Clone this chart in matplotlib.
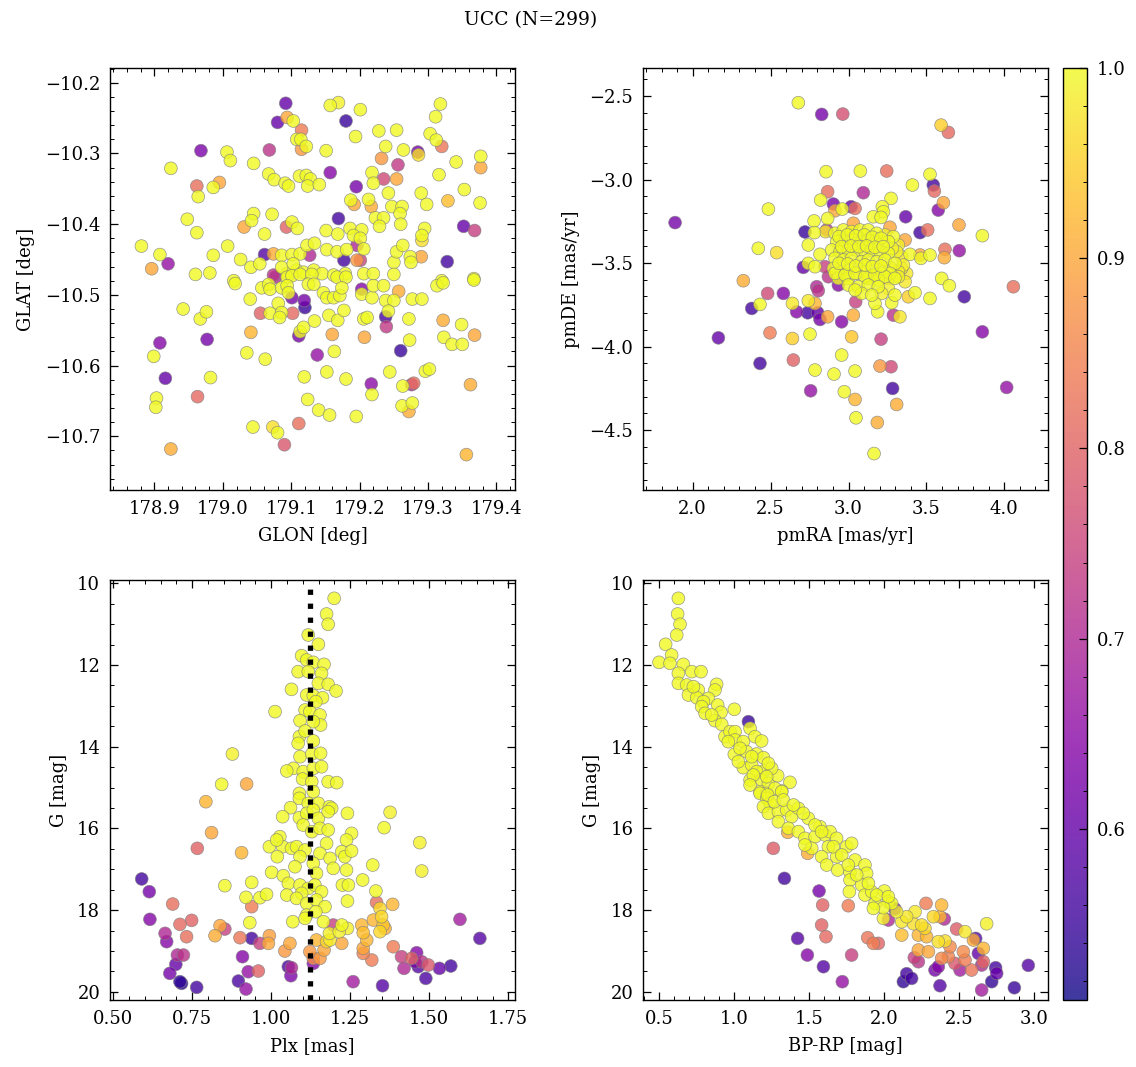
import numpy as np
import matplotlib
matplotlib.use("Agg")
import matplotlib.pyplot as plt
from matplotlib.colors import Normalize
from matplotlib.ticker import MultipleLocator, FuncFormatter

# ---------------- data ----------------
title = "UCC (N=299)"

# Top-left: GLON / GLAT
tl_glon = [179.092, 179.157, 179.169, 179.201, 179.318, 179.311, 179.080, 179.094, 179.103, 179.180,
           179.115, 179.108, 179.114, 179.122, 179.115, 179.194, 179.228, 179.254, 179.303, 179.312,
           179.320, 178.968, 179.006, 179.011, 179.068, 179.151, 179.238, 179.264, 179.285, 179.286,
           179.377, 179.377, 179.341, 178.924, 179.045, 179.232, 179.256, 179.157, 179.067, 179.075,
           179.091, 179.096, 179.112, 179.122, 179.128, 179.124, 179.141, 179.218, 179.220, 179.235,
           179.254, 179.316, 178.962, 178.964, 178.986, 178.995, 179.195, 179.353, 179.242, 179.290,
           179.298, 179.329, 179.376, 179.187, 179.192, 179.213, 179.217, 179.247, 179.262, 179.259,
           178.948, 178.962, 179.045, 179.042, 179.072, 179.169, 179.223, 179.235, 179.229, 179.260,
           179.352, 179.368, 179.031, 179.093, 179.101, 179.109, 179.061, 179.151, 179.168, 179.186,
           179.203, 179.191, 179.201, 179.295, 179.291, 179.291, 179.290, 178.881, 178.908, 178.896,
           178.920, 178.986, 179.007, 179.026, 179.041, 179.054, 179.061, 179.074, 179.086, 179.101,
           179.113, 179.123, 179.134, 179.127, 179.152, 179.167, 179.181, 179.196, 179.206, 179.196,
           179.201, 179.177, 179.250, 179.254, 179.263, 179.274, 179.275, 179.328, 178.960, 178.981,
           179.367, 179.320, 179.094, 179.108, 179.118, 179.133, 179.145, 179.162, 179.179, 179.206,
           179.220, 179.074, 179.016, 179.086, 179.103,
           179.018, 179.040, 179.057, 179.067, 179.069, 179.077, 179.094, 179.101, 179.113, 179.130,
           179.086, 179.094, 179.096, 179.101, 179.119, 179.120, 179.125, 179.133, 179.147, 179.152,
           179.162, 179.171, 179.167, 179.180, 179.174, 179.203, 179.203, 179.218, 179.220, 179.235,
           179.250, 179.257, 179.238, 179.250, 179.242, 179.238, 179.239, 179.277, 179.291, 179.313,
           179.322, 179.367, 178.942, 178.967, 178.976, 179.055, 179.069, 179.081, 179.086, 179.083,
           179.102, 179.113, 179.111, 179.118, 179.134, 179.155, 179.168, 179.177, 179.160, 179.206,
           179.211, 179.207, 179.272, 179.273, 179.322, 179.349, 179.368, 179.323, 179.335, 179.350,
           178.908, 178.977, 178.899, 179.041, 179.035, 179.062, 179.138, 179.163, 179.260, 178.916,
           178.982, 179.119, 179.152, 179.180, 179.244, 179.296, 179.302, 179.217, 179.218, 179.263,
           179.276, 179.279, 179.362, 178.903, 178.902, 178.963, 179.124, 179.140, 179.156, 179.195,
           179.262, 179.277, 179.272, 179.044, 179.073, 179.080, 179.111, 179.090, 178.924, 179.356]
tl_glat = [-10.229, -10.232, -10.228, -10.238, -10.230, -10.248, -10.256, -10.249, -10.254, -10.254,
           -10.267, -10.280, -10.280, -10.290, -10.294, -10.276, -10.268, -10.267, -10.272, -10.281,
           -10.290, -10.296, -10.298, -10.310, -10.295, -10.296, -10.290, -10.295, -10.298, -10.302,
           -10.304, -10.320, -10.312, -10.321, -10.314, -10.307, -10.316, -10.327, -10.329, -10.337,
           -10.342, -10.346, -10.332, -10.331, -10.336, -10.346, -10.344, -10.327, -10.342, -10.336,
           -10.336, -10.330, -10.346, -10.361, -10.348, -10.341, -10.347, -10.351, -10.356, -10.356,
           -10.372, -10.367, -10.370, -10.366, -10.372, -10.365, -10.375, -10.375, -10.375, -10.385,
           -10.393, -10.412, -10.385, -10.395, -10.386, -10.392, -10.391, -10.391, -10.403, -10.400,
           -10.403, -10.409, -10.404, -10.404, -10.397, -10.406, -10.414, -10.409, -10.414, -10.406,
           -10.408, -10.416, -10.420, -10.406, -10.416, -10.423, -10.446, -10.431, -10.443, -10.463,
           -10.456, -10.444, -10.431, -10.450, -10.461, -10.456, -10.443, -10.442, -10.444, -10.443,
           -10.442, -10.430, -10.427, -10.444, -10.436, -10.439, -10.436, -10.430, -10.435, -10.451,
           -10.451, -10.451, -10.454, -10.439, -10.430, -10.446, -10.454, -10.453, -10.471, -10.469,
           -10.477, -10.480, -10.470, -10.465, -10.468, -10.465, -10.470, -10.472, -10.470, -10.470,
           -10.470, -10.472, -10.480, -10.461, -10.456,
           -10.484, -10.506, -10.490, -10.485, -10.492, -10.475, -10.475, -10.473, -10.471, -10.471,
           -10.490, -10.487, -10.497, -10.504, -10.508, -10.518, -10.485, -10.485, -10.497, -10.504,
           -10.504, -10.501, -10.475, -10.475, -10.490, -10.492, -10.499, -10.504, -10.487, -10.487,
           -10.471, -10.495, -10.508, -10.508, -10.523, -10.531, -10.545, -10.506, -10.506, -10.487,
           -10.483, -10.479, -10.520, -10.534, -10.524, -10.526, -10.526, -10.512, -10.525, -10.532,
           -10.526, -10.552, -10.558, -10.546, -10.537, -10.529, -10.536, -10.522, -10.556, -10.534,
           -10.532, -10.560, -10.534, -10.564, -10.536, -10.542, -10.557, -10.560, -10.570, -10.570,
           -10.568, -10.563, -10.587, -10.553, -10.582, -10.591, -10.585, -10.580, -10.579, -10.618,
           -10.617, -10.616, -10.609, -10.619, -10.609, -10.608, -10.605, -10.626, -10.641, -10.629,
           -10.627, -10.625, -10.627, -10.646, -10.659, -10.644, -10.648, -10.663, -10.670, -10.672,
           -10.657, -10.653, -10.665, -10.687, -10.687, -10.695, -10.682, -10.712, -10.718, -10.726]
tl_prob = [0.60, 1.00, 0.99, 1.00, 1.00, 1.00, 0.60, 0.90, 1.00, 0.55,
           0.84, 1.00, 1.00, 1.00, 0.88, 1.00, 1.00, 1.00, 1.00, 1.00,
           0.83, 0.63, 1.00, 1.00, 0.72, 1.00, 1.00, 1.00, 0.62, 0.97,
           1.00, 0.90, 1.00, 1.00, 1.00, 0.88, 0.73, 0.64, 1.00, 1.00,
           1.00, 1.00, 1.00, 1.00, 1.00, 1.00, 1.00, 1.00, 1.00, 0.76,
           0.90, 1.00, 0.82, 1.00, 1.00, 0.90, 0.62, 1.00, 1.00, 1.00,
           1.00, 0.93, 1.00, 1.00, 0.90, 1.00, 0.91, 1.00, 1.00, 1.00,
           1.00, 1.00, 1.00, 1.00, 1.00, 0.56, 1.00, 1.00, 1.00, 1.00,
           0.60, 0.74, 0.90, 0.80, 1.00, 1.00, 1.00, 1.00, 1.00, 1.00,
           1.00, 1.00, 1.00, 1.00, 1.00, 0.97, 0.90, 1.00, 1.00, 0.90,
           0.66, 1.00, 1.00, 1.00, 1.00, 1.00, 0.58, 0.91, 1.00, 1.00,
           1.00, 1.00, 1.00, 0.70, 1.00, 1.00, 1.00, 0.70, 1.00, 0.88,
           0.75, 0.56, 1.00, 1.00, 1.00, 1.00, 1.00, 0.56, 1.00, 1.00,
           1.00, 1.00, 1.00, 1.00, 1.00, 1.00, 1.00, 1.00, 1.00, 1.00,
           1.00, 0.72, 1.00, 1.00, 1.00,
           1.00, 1.00, 1.00, 1.00, 1.00, 0.70, 1.00, 1.00, 1.00, 1.00,
           1.00, 1.00, 1.00, 0.62, 0.62, 0.55, 1.00, 1.00, 1.00, 1.00,
           1.00, 1.00, 1.00, 1.00, 1.00, 0.64, 1.00, 1.00, 1.00, 1.00,
           1.00, 0.91, 1.00, 1.00, 1.00, 0.56, 0.73, 1.00, 1.00, 1.00,
           1.00, 1.00, 1.00, 1.00, 1.00, 0.80, 1.00, 1.00, 1.00, 1.00,
           0.81, 1.00, 0.62, 1.00, 1.00, 1.00, 1.00, 1.00, 0.90, 1.00,
           1.00, 0.90, 1.00, 1.00, 0.91, 1.00, 0.90, 1.00, 1.00, 1.00,
           0.64, 0.62, 1.00, 0.92, 1.00, 1.00, 0.66, 1.00, 0.55, 0.60,
           1.00, 1.00, 1.00, 1.00, 1.00, 1.00, 1.00, 0.65, 1.00, 1.00,
           0.70, 0.82, 0.91, 1.00, 1.00, 0.81, 1.00, 1.00, 1.00, 1.00,
           1.00, 1.00, 0.91, 1.00, 0.97, 1.00, 0.82, 0.78, 0.91, 0.92]

# Top-right: proper motions
tr_pmra = [2.678, 2.828, 2.963, 3.594, 3.641, 2.856, 3.076, 3.245, 3.523, 3.410,
           3.544, 3.551, 3.095, 2.866, 2.821, 3.273, 3.609, 3.576, 2.486, 2.903,
           2.913, 2.960, 3.016, 3.042, 3.217, 3.224, 3.159, 3.209, 3.367, 1.887,
           2.779, 2.866, 3.709, 3.859, 2.721, 2.781, 2.860, 2.852, 3.459, 3.508,
           3.266, 3.031, 2.742, 2.817, 2.421, 2.539, 3.363, 3.395, 3.465, 3.459,
           3.523, 3.619, 3.615, 3.711, 2.710, 2.742, 2.785, 2.849, 2.325, 3.598,
           2.481, 2.582, 2.379, 2.432, 2.640, 2.667, 2.738, 2.742, 2.785, 2.796,
           2.806, 2.802, 2.817, 2.866, 2.956, 3.031, 3.046, 2.935, 2.871, 3.187,
           3.170, 3.277, 3.288, 3.330, 3.384, 3.427, 3.298, 3.523, 3.647, 3.743,
           4.058, 3.859, 2.165, 2.496, 2.640, 2.753, 3.020, 3.209, 2.956, 2.432,
           2.646, 2.785, 2.907, 3.042, 3.202, 3.273, 2.757, 2.973, 3.042, 3.283,
           3.309, 4.015, 3.048, 3.185, 3.164]
tr_pmde = [-2.540, -2.610, -2.608, -2.674, -2.718, -2.953, -2.949, -2.949, -2.969, -3.033,
           -3.033, -3.069, -3.079, -3.073, -3.123, -3.113, -3.139, -3.183, -3.177, -3.147,
           -3.187, -3.177, -3.163, -3.173, -3.163, -3.193, -3.223, -3.227, -3.223, -3.258,
           -3.248, -3.233, -3.272, -3.336, -3.314, -3.318, -3.302, -3.312, -3.318, -3.302,
           -3.286, -3.262, -3.392, -3.448, -3.412, -3.438, -3.362, -3.448, -3.472, -3.452,
           -3.452, -3.418, -3.468, -3.426, -3.526, -3.502, -3.522, -3.522, -3.606, -3.592,
           -3.682, -3.682, -3.772, -3.748, -3.742, -3.792, -3.798, -3.726, -3.742, -3.642,
           -3.666, -3.798, -3.838, -3.822, -3.852, -3.812, -3.732, -3.632, -3.582, -3.792,
           -3.742, -3.738, -3.812, -3.822, -3.702, -3.678, -3.692, -3.712, -3.636, -3.702,
           -3.642, -3.912, -3.948, -3.918, -3.952, -3.926, -3.942, -3.956, -4.051, -4.101,
           -4.081, -4.141, -4.165, -4.147, -4.117, -4.121, -4.265, -4.271, -4.317, -4.251,
           -4.347, -4.245, -4.427, -4.455, -4.641]
tr_prob = [1.00, 0.62, 0.77, 0.95, 0.81, 1.00, 1.00, 0.82, 1.00, 1.00,
           0.56, 0.81, 0.70, 0.82, 1.00, 1.00, 0.90, 0.64, 1.00, 0.62,
           0.90, 1.00, 0.60, 0.82, 1.00, 1.00, 1.00, 1.00, 0.60, 0.62,
           1.00, 1.00, 0.90, 1.00, 0.55, 1.00, 0.72, 0.98, 0.56, 0.82,
           0.90, 0.90, 1.00, 1.00, 1.00, 0.97, 0.90, 1.00, 1.00, 0.90,
           1.00, 0.82, 0.91, 0.66, 0.60, 1.00, 1.00, 0.74, 0.91, 1.00,
           0.76, 0.64, 0.56, 1.00, 0.98, 0.64, 0.56, 0.98, 0.92, 0.70,
           0.72, 0.60, 0.62, 0.90, 0.64, 0.91, 0.74, 0.64, 0.72, 1.00,
           1.00, 1.00, 0.72, 0.98, 0.95, 1.00, 1.00, 1.00, 1.00, 0.56,
           0.82, 0.64, 0.60, 0.84, 0.95, 1.00, 0.94, 0.74, 1.00, 0.56,
           0.80, 1.00, 1.00, 1.00, 0.88, 0.76, 0.66, 1.00, 0.92, 0.56,
           0.91, 0.66, 1.00, 0.91, 1.00]
# dense core of the proper-motion cloud (all high probability)
tr_core_pmra = [2.913, 2.967, 3.020, 3.074, 3.127, 3.181, 3.234, 3.288,
                2.924, 2.978, 3.031, 3.084, 3.127, 3.181, 3.256, 3.320,
                2.892, 2.945, 2.999, 3.052, 3.106, 3.149, 3.202, 3.256, 3.309, 3.341,
                2.913, 2.967, 3.020, 3.084, 3.127, 3.181, 3.234, 3.298, 3.352,
                2.903, 2.956, 3.010, 3.052, 3.106, 3.159, 3.213, 3.266, 3.320, 3.373,
                2.935, 2.999, 3.127, 3.191, 3.256, 3.320,
                2.913, 2.978, 3.042, 3.106, 3.170, 3.234, 3.298, 3.363, 2.999, 3.063,
                3.127, 3.191, 3.256, 3.084, 3.149, 3.213, 3.042,
                2.939, 2.993, 3.046, 3.102, 3.153, 3.209, 2.956, 3.016, 3.067, 3.116,
                3.170, 3.223, 3.281, 2.939, 2.995, 3.046, 3.106, 3.153, 3.209, 3.266, 3.341]
tr_core_pmde = [-3.322, -3.302, -3.312, -3.302, -3.302, -3.322, -3.332, -3.342,
                -3.372, -3.372, -3.362, -3.372, -3.362, -3.382, -3.372, -3.392,
                -3.422, -3.432, -3.422, -3.422, -3.432, -3.422, -3.432, -3.442, -3.432, -3.462,
                -3.472, -3.482, -3.472, -3.492, -3.482, -3.492, -3.482, -3.502, -3.512,
                -3.532, -3.552, -3.542, -3.562, -3.552, -3.572, -3.562, -3.562, -3.552, -3.562,
                -3.592, -3.592, -3.592, -3.602, -3.592, -3.582,
                -3.562, -3.572, -3.562, -3.582, -3.572, -3.582, -3.592, -3.612, -3.632, -3.642,
                -3.632, -3.642, -3.652, -3.682, -3.692, -3.682, -3.662,
                -3.342, -3.332, -3.338, -3.332, -3.346, -3.352, -3.402, -3.398, -3.402, -3.398,
                -3.406, -3.402, -3.412, -3.502, -3.506, -3.518, -3.512, -3.522, -3.518, -3.526, -3.532]
tr_core_prob = [1.00, 1.00, 1.00, 1.00, 1.00, 1.00, 0.99, 1.00,
                1.00, 1.00, 1.00, 1.00, 1.00, 1.00, 1.00, 0.99,
                1.00, 1.00, 1.00, 1.00, 1.00, 1.00, 1.00, 1.00, 0.99, 0.98,
                1.00, 1.00, 1.00, 1.00, 1.00, 1.00, 1.00, 1.00, 0.99,
                1.00, 1.00, 1.00, 1.00, 1.00, 1.00, 1.00, 1.00, 0.99, 0.98,
                1.00, 1.00, 1.00, 1.00, 0.99, 0.99,
                1.00, 1.00, 1.00, 1.00, 1.00, 1.00, 1.00, 0.98, 1.00, 1.00,
                1.00, 1.00, 0.99, 1.00, 1.00, 0.99, 1.00,
                1.00, 1.00, 1.00, 1.00, 1.00, 1.00, 1.00, 1.00, 1.00, 1.00,
                1.00, 1.00, 0.99, 1.00, 1.00, 1.00, 1.00, 1.00, 1.00, 0.99, 0.98]

# Bottom-left: parallax vs G
bl_plx = [1.199, 1.175, 1.180, 1.117, 1.149, 1.096, 1.112, 1.133, 1.167, 1.085,
          1.117, 1.159, 1.149, 1.180, 1.205, 1.064, 1.112, 1.133, 1.162, 1.141,
          1.012, 1.107, 1.122, 1.154, 1.091, 1.156, 1.133, 1.089, 1.107, 1.133,
          1.085, 1.091, 1.128, 1.156, 1.070, 1.049, 1.101, 1.133, 1.159, 1.099,
          1.128, 1.180, 1.207, 0.877, 0.843, 1.089, 1.133,
          1.089, 1.117, 1.149, 1.184, 1.191, 1.061, 1.089, 1.112, 1.133, 1.149,
          1.180, 1.241, 1.376, 1.357, 1.036, 1.101, 1.128, 1.154, 1.180, 1.254,
          1.238, 1.175, 1.470, 0.994, 1.027, 1.036, 1.017, 1.064, 1.080, 1.107,
          1.091, 1.154, 1.186, 1.196, 1.223, 1.233, 1.254, 1.019, 1.075, 1.133,
          1.143, 1.001, 1.038, 1.321, 1.238, 1.289, 1.476, 1.054, 1.091, 1.117,
          1.138, 1.159, 1.096, 1.049, 1.080, 1.112, 1.143, 1.170, 1.225, 1.244,
          1.331, 1.241, 0.853, 0.938, 0.920, 0.964, 0.985, 1.112, 1.141, 1.165,
          1.068, 1.107, 0.932, 1.184, 1.223, 1.241, 1.186, 1.175, 1.215, 1.344,
          1.349, 1.344, 1.354,
          0.922, 0.793, 0.811, 0.906, 1.384, 0.838, 0.822, 0.994, 0.991, 1.043,
          1.059, 1.143, 1.223, 1.286, 1.291, 1.302, 1.291, 1.323, 1.360, 1.122,
          1.133, 1.154, 1.167,
          0.766, 0.688, 0.711, 0.748, 0.732, 0.901, 0.938, 0.959, 1.333, 1.386,
          1.291, 1.318, 1.444, 1.497,
          0.853, 0.964, 1.064, 1.259, 1.420, 0.664, 0.722, 0.703, 1.412, 1.476,
          1.597, 1.196, 0.920, 0.927,
          0.614, 0.616, 0.669, 0.679, 0.909, 1.062, 1.460, 1.532, 1.455, 1.133, 0.698,
          0.590, 0.711, 0.716, 0.764, 0.896, 0.938, 1.054, 1.352, 1.489, 1.465,
          1.568, 1.660]
bl_g = [10.368, 10.752, 11.004, 11.266, 11.494, 11.772, 11.878, 11.935, 11.984, 12.163,
        12.163, 12.204, 12.449, 12.473, 12.636, 12.596, 12.734, 12.751, 12.800, 12.898,
        13.142, 13.102, 13.142, 13.224, 13.363, 13.469, 13.387, 13.754, 13.616, 13.860,
        13.918, 14.244, 14.179, 14.162, 14.530, 14.595, 14.611, 14.530, 14.489, 14.791,
        14.856, 14.856, 14.880, 14.179, 14.921, 15.142, 15.101,
        15.264, 15.386, 15.386, 15.468, 15.509, 15.493, 15.738, 15.631, 15.550, 15.754,
        15.590, 15.631, 15.607, 15.982, 15.713, 15.917, 16.080, 15.998, 16.039, 16.121,
        16.284, 16.366, 16.349, 16.447, 16.202, 16.447, 16.284, 16.488, 16.447, 16.529,
        16.692, 16.610, 16.733, 16.978, 16.570, 16.692, 16.553, 16.692, 16.937, 16.855,
        17.100, 17.076, 17.157, 16.896, 17.018, 17.263, 17.043, 17.345, 17.386, 17.468,
        17.386, 17.549, 17.590, 17.631, 17.712, 17.835, 17.753, 17.916, 17.386, 17.386,
        17.533, 17.778, 17.402, 17.321, 17.688, 17.696, 17.614, 18.120, 18.039, 18.284,
        18.284, 18.202, 18.308, 18.569, 18.365, 18.447, 18.732, 18.773, 18.528, 17.957,
        18.161, 18.528, 18.365,
        14.913, 15.346, 16.104, 16.594, 17.859, 18.381, 18.626, 18.626, 18.814, 19.002,
        18.814, 18.732, 18.814, 18.365, 18.553, 18.732, 18.936, 18.243, 18.447, 19.018,
        19.181, 19.181, 18.977,
        16.488, 17.851, 18.349, 18.251, 18.651, 18.675, 17.916, 19.491, 17.810, 18.896,
        19.059, 19.222, 19.181, 19.344,
        18.463, 18.814, 19.410, 19.752, 19.426, 18.569, 19.100, 19.100, 19.140, 19.263,
        18.226, 18.365, 19.932, 19.508,
        17.549, 18.226, 18.773, 19.548, 19.140, 19.606, 19.043, 19.426, 19.263, 19.304, 19.328,
        17.237, 19.752, 19.793, 19.891, 19.736, 18.692, 19.385, 19.850, 19.671, 19.385,
        19.368, 18.692]
bl_prob = [1.00, 1.00, 1.00, 1.00, 1.00, 1.00, 1.00, 1.00, 1.00, 1.00,
           1.00, 1.00, 1.00, 1.00, 1.00, 1.00, 1.00, 1.00, 1.00, 1.00,
           1.00, 1.00, 1.00, 1.00, 1.00, 1.00, 1.00, 1.00, 1.00, 1.00,
           1.00, 1.00, 1.00, 1.00, 1.00, 1.00, 1.00, 1.00, 1.00, 1.00,
           1.00, 1.00, 1.00, 0.99, 1.00, 1.00, 1.00,
           1.00, 1.00, 1.00, 1.00, 1.00, 1.00, 1.00, 1.00, 1.00, 1.00,
           1.00, 1.00, 0.99, 1.00, 1.00, 1.00, 1.00, 1.00, 1.00, 1.00,
           1.00, 1.00, 0.99, 1.00, 1.00, 1.00, 1.00, 1.00, 1.00, 1.00,
           1.00, 1.00, 1.00, 1.00, 1.00, 1.00, 1.00, 1.00, 1.00, 1.00,
           1.00, 1.00, 1.00, 1.00, 1.00, 1.00, 0.99, 1.00, 1.00, 1.00,
           1.00, 1.00, 1.00, 1.00, 1.00, 1.00, 1.00, 1.00, 1.00, 1.00,
           1.00, 1.00, 1.00, 1.00, 1.00, 1.00, 1.00, 1.00, 1.00, 1.00,
           1.00, 1.00, 1.00, 0.99, 1.00, 0.99, 0.98, 0.96, 0.99, 0.96,
           0.96, 0.96, 0.94,
           0.90, 0.92, 0.90, 0.92, 0.92, 0.90, 0.91, 0.89, 0.90, 0.88,
           0.90, 0.92, 0.90, 0.92, 0.93, 0.92, 0.90, 0.92, 0.91, 0.88,
           0.87, 0.88, 0.90,
           0.80, 0.82, 0.81, 0.80, 0.82, 0.83, 0.84, 0.80, 0.82, 0.84,
           0.85, 0.84, 0.80, 0.78,
           0.74, 0.74, 0.70, 0.68, 0.70, 0.70, 0.72, 0.70, 0.74, 0.72,
           0.68, 0.74, 0.66, 0.66,
           0.62, 0.64, 0.64, 0.62, 0.64, 0.63, 0.64, 0.60, 0.62, 0.64, 0.60,
           0.56, 0.54, 0.53, 0.56, 0.57, 0.56, 0.57, 0.58, 0.57, 0.58,
           0.56, 0.58]
plx_median = 1.121

# Bottom-right: colour-magnitude diagram
br_bprp = [0.629, 0.624, 0.640, 0.618, 0.544, 0.584, 0.500, 0.573, 0.662, 0.629,
           0.718, 0.780, 0.629, 0.684, 0.884, 0.873, 0.762, 0.696, 0.751, 0.829,
           0.796, 0.891, 0.784, 0.913, 0.807, 0.873, 1.002, 1.096, 1.107, 0.918,
           0.940, 0.973, 1.007, 1.140, 1.184, 1.007, 1.062, 1.002, 1.084, 1.151,
           1.196, 1.062, 1.118, 1.196, 1.151, 1.107, 1.184, 1.229, 1.291, 1.251,
           1.373, 1.318, 1.173, 1.218,
           0.962, 1.040, 1.118, 1.029, 1.229, 1.129, 1.218, 1.273, 0.851, 0.729,
           1.107, 1.173, 1.218, 1.240, 1.196, 1.229, 1.318, 1.296, 1.351, 1.384,
           1.429, 1.496, 1.296, 1.362, 1.429, 1.473, 1.540, 1.573, 1.607, 1.640,
           1.684, 1.629, 1.518, 1.473, 1.584, 1.618, 1.684, 1.751, 1.784, 1.691,
           1.773, 1.773, 1.807, 1.873, 1.884, 1.851, 1.873, 1.769, 1.918, 1.940,
           2.002, 2.029, 2.051, 1.996, 1.929, 1.996, 2.118, 2.207, 2.151, 2.196,
           2.251, 2.273, 2.329, 2.684, 2.540, 2.407, 2.362,
           1.224, 1.269, 1.329, 1.396, 1.462, 1.540, 1.584, 1.662, 1.718, 1.762,
           1.818, 1.896, 1.951, 2.029, 2.084,
           2.118, 2.229, 2.284, 2.373, 2.384, 2.229, 2.296, 2.662, 2.596, 1.358, 1.491,
           1.762, 2.280, 1.262, 1.591, 1.584, 1.613, 1.891, 1.929, 1.962, 2.440,
           2.529, 2.484, 2.384, 2.429, 2.540, 2.584, 2.473, 2.662,
           1.784, 2.202, 2.229, 2.402, 2.651, 2.651, 2.029, 2.507, 1.722,
           1.567, 1.489, 2.073, 2.629, 2.340, 2.362,
           1.336, 1.424, 1.596, 2.151, 2.129, 2.184, 2.373, 2.744, 2.751, 2.718,
           2.869, 2.962, 2.611]
br_g = [10.368, 10.752, 11.004, 11.266, 11.494, 11.755, 11.935, 11.959, 11.984, 12.204,
        12.163, 12.163, 12.449, 12.490, 12.473, 12.612, 12.612, 12.734, 12.800, 12.816,
        12.898, 12.979, 13.020, 13.159, 13.183, 13.363, 13.085, 13.387, 13.550, 13.453,
        13.754, 13.632, 13.632, 13.754, 13.860, 13.836, 13.877, 14.187, 14.122, 14.179,
        14.268, 14.513, 14.448, 14.595, 14.611, 14.815, 14.815, 14.897, 14.709, 14.530,
        14.872, 15.084, 15.101, 15.142,
        13.877, 14.040, 14.244, 14.366, 14.407, 14.693, 14.734, 15.019, 13.224, 12.530,
        14.938, 15.142, 15.264, 15.386, 15.468, 15.631, 15.101, 15.590, 15.550, 15.713,
        15.509, 15.754, 15.835, 15.998, 16.080, 16.243, 16.202, 15.958, 16.161, 16.080,
        16.243, 16.447, 16.488, 16.406, 16.692, 16.896, 16.692, 16.447, 16.366, 17.018,
        17.076, 17.263, 16.774, 16.896, 17.100, 17.386, 17.631, 17.549, 17.549, 17.835,
        17.533, 17.794, 17.835, 17.941, 17.957, 18.202, 18.284, 18.039, 18.161, 18.333,
        18.365, 18.447, 18.161, 18.333, 18.528, 18.757, 18.773,
        15.183, 15.346, 15.305, 15.427, 15.631, 15.917, 16.080, 16.447, 16.651, 16.896,
        17.141, 17.345, 17.631, 17.671, 18.039,
        18.610, 18.610, 18.651, 18.161, 17.876, 18.977, 19.018, 18.936, 18.732, 16.096, 16.610,
        17.892, 17.835, 16.488, 17.876, 18.365, 18.651, 18.675, 18.814, 18.814, 18.896,
        19.018, 18.463, 19.181, 19.140, 19.222, 19.467, 19.304, 19.263,
        19.100, 19.164, 19.263, 18.218, 19.344, 19.956, 18.243, 19.467, 19.752,
        17.533, 19.100, 17.973, 19.059, 19.467, 19.385,
        17.223, 18.692, 19.385, 19.557, 19.752, 19.671, 19.850, 19.410, 19.548, 19.752,
        19.900, 19.352, 18.692]
br_prob = [1.00, 1.00, 1.00, 1.00, 1.00, 1.00, 1.00, 1.00, 1.00, 1.00,
           1.00, 1.00, 1.00, 1.00, 1.00, 1.00, 1.00, 1.00, 1.00, 1.00,
           1.00, 1.00, 1.00, 1.00, 1.00, 1.00, 1.00, 0.55, 1.00, 1.00,
           1.00, 1.00, 1.00, 1.00, 1.00, 1.00, 1.00, 1.00, 1.00, 1.00,
           1.00, 1.00, 1.00, 1.00, 1.00, 1.00, 1.00, 1.00, 1.00, 1.00,
           1.00, 1.00, 1.00, 1.00,
           1.00, 1.00, 1.00, 1.00, 1.00, 1.00, 1.00, 1.00, 1.00, 1.00,
           1.00, 1.00, 1.00, 1.00, 1.00, 1.00, 1.00, 1.00, 1.00, 1.00,
           1.00, 1.00, 1.00, 1.00, 1.00, 1.00, 1.00, 1.00, 1.00, 1.00,
           1.00, 1.00, 1.00, 1.00, 1.00, 1.00, 1.00, 1.00, 1.00, 1.00,
           1.00, 1.00, 1.00, 1.00, 1.00, 1.00, 1.00, 1.00, 1.00, 1.00,
           1.00, 1.00, 1.00, 1.00, 1.00, 0.99, 0.98, 0.98, 0.98, 0.97,
           0.97, 0.96, 0.96, 0.99, 0.98, 0.97, 0.97,
           1.00, 1.00, 1.00, 1.00, 1.00, 1.00, 1.00, 1.00, 1.00, 1.00,
           1.00, 1.00, 1.00, 1.00, 0.99,
           0.93, 0.92, 0.92, 0.92, 0.92, 0.90, 0.90, 0.92, 0.91, 0.91, 0.91,
           0.84, 0.84, 0.79, 0.80, 0.80, 0.81, 0.83, 0.84, 0.80, 0.86,
           0.86, 0.79, 0.86, 0.85, 0.84, 0.83, 0.78, 0.80,
           0.74, 0.74, 0.72, 0.70, 0.70, 0.68, 0.70, 0.68, 0.66,
           0.62, 0.64, 0.62, 0.60, 0.62, 0.64,
           0.56, 0.58, 0.58, 0.56, 0.54, 0.56, 0.58, 0.56, 0.60, 0.54,
           0.55, 0.58, 0.58]

# ---------------- style ----------------
plt.rcParams.update({
    "font.family": "serif",
    "font.serif": ["DejaVu Serif"],
    "font.size": 13,
    "axes.linewidth": 1.0,
    "axes.labelpad": 7,
    "xtick.direction": "in", "ytick.direction": "in",
    "xtick.top": True, "ytick.right": True,
    "xtick.minor.visible": True, "ytick.minor.visible": True,
    "xtick.major.size": 6, "ytick.major.size": 6,
    "xtick.minor.size": 3, "ytick.minor.size": 3,
    "xtick.major.width": 0.9, "ytick.major.width": 0.9,
    "xtick.minor.width": 0.7, "ytick.minor.width": 0.7,
    "xtick.major.pad": 7, "ytick.major.pad": 7,
    "xtick.labelsize": 13, "ytick.labelsize": 13,
})

fig = plt.figure(figsize=(11.36, 10.67), dpi=100)
norm = Normalize(vmin=0.51, vmax=1.0)


def fmt(spec):
    return FuncFormatter(lambda v, pos: (spec % v).replace("-", "\u2212"))


def panel(rect, x, y, p, xlabel, ylabel, xlim, ylim, xmaj, xmin, ymaj, ymin, xfmt, yfmt):
    ax = fig.add_axes(rect)
    x = np.asarray(x, float)
    y = np.asarray(y, float)
    p = np.asarray(p, float)
    o = np.argsort(p, kind="stable")
    sc = ax.scatter(x[o], y[o], c=p[o], cmap="plasma", norm=norm, s=85,
                    alpha=0.8, edgecolors="grey", linewidths=0.5, zorder=2)
    ax.set_xlim(*xlim)
    ax.set_ylim(*ylim)
    ax.xaxis.set_major_locator(MultipleLocator(xmaj))
    ax.xaxis.set_minor_locator(MultipleLocator(xmin))
    ax.yaxis.set_major_locator(MultipleLocator(ymaj))
    ax.yaxis.set_minor_locator(MultipleLocator(ymin))
    ax.xaxis.set_major_formatter(fmt(xfmt))
    ax.yaxis.set_major_formatter(fmt(yfmt))
    ax.set_xlabel(xlabel)
    ax.set_ylabel(ylabel)
    return ax, sc


ax1, sc = panel([0.0968, 0.5408, 0.3565, 0.3955], tl_glon, tl_glat, tl_prob,
                "GLON [deg]", "GLAT [deg]", (178.835, 179.427), (-10.776, -10.179),
                0.1, 0.02, 0.1, 0.02, "%.1f", "%.1f")

ax2, _ = panel([0.5660, 0.5408, 0.3565, 0.3955],
               tr_pmra + tr_core_pmra, tr_pmde + tr_core_pmde, tr_prob + tr_core_prob,
               "pmRA [mas/yr]", "pmDE [mas/yr]", (1.681, 4.28), (-4.859, -2.332),
               0.5, 0.1, 0.5, 0.1, "%.1f", "%.1f")

ax3, _ = panel([0.0968, 0.0628, 0.3565, 0.3936], bl_plx, bl_g, bl_prob,
               "Plx [mas]", "G [mag]", (0.4896, 1.771), (20.20, 9.92),
               0.25, 0.05, 2, 0.5, "%.2f", "%.0f")
ax3.axvline(plx_median, color="black", linestyle=":", linewidth=3.8, zorder=5)

ax4, _ = panel([0.5660, 0.0628, 0.3565, 0.3936], br_bprp, br_g, br_prob,
               "BP-RP [mag]", "G [mag]", (0.393, 3.093), (20.20, 9.92),
               0.5, 0.1, 2, 0.5, "%.1f", "%.0f")

cax = fig.add_axes([0.9357, 0.0628, 0.0211, 0.8735])
cb = fig.colorbar(sc, cax=cax)
cb.set_ticks([0.6, 0.7, 0.8, 0.9, 1.0])
cb.ax.yaxis.set_minor_locator(MultipleLocator(0.02))
cb.ax.yaxis.set_major_formatter(fmt("%.1f"))
cb.ax.tick_params(which="both", direction="in", right=True, left=False)
cb.ax.tick_params(which="major", length=6)
cb.ax.tick_params(which="minor", length=3)
cb.outline.set_linewidth(1.0)

fig.text(0.467, 0.981, title, ha="center", va="center", fontsize=13.5)

fig.savefig("out.png", dpi=100)
